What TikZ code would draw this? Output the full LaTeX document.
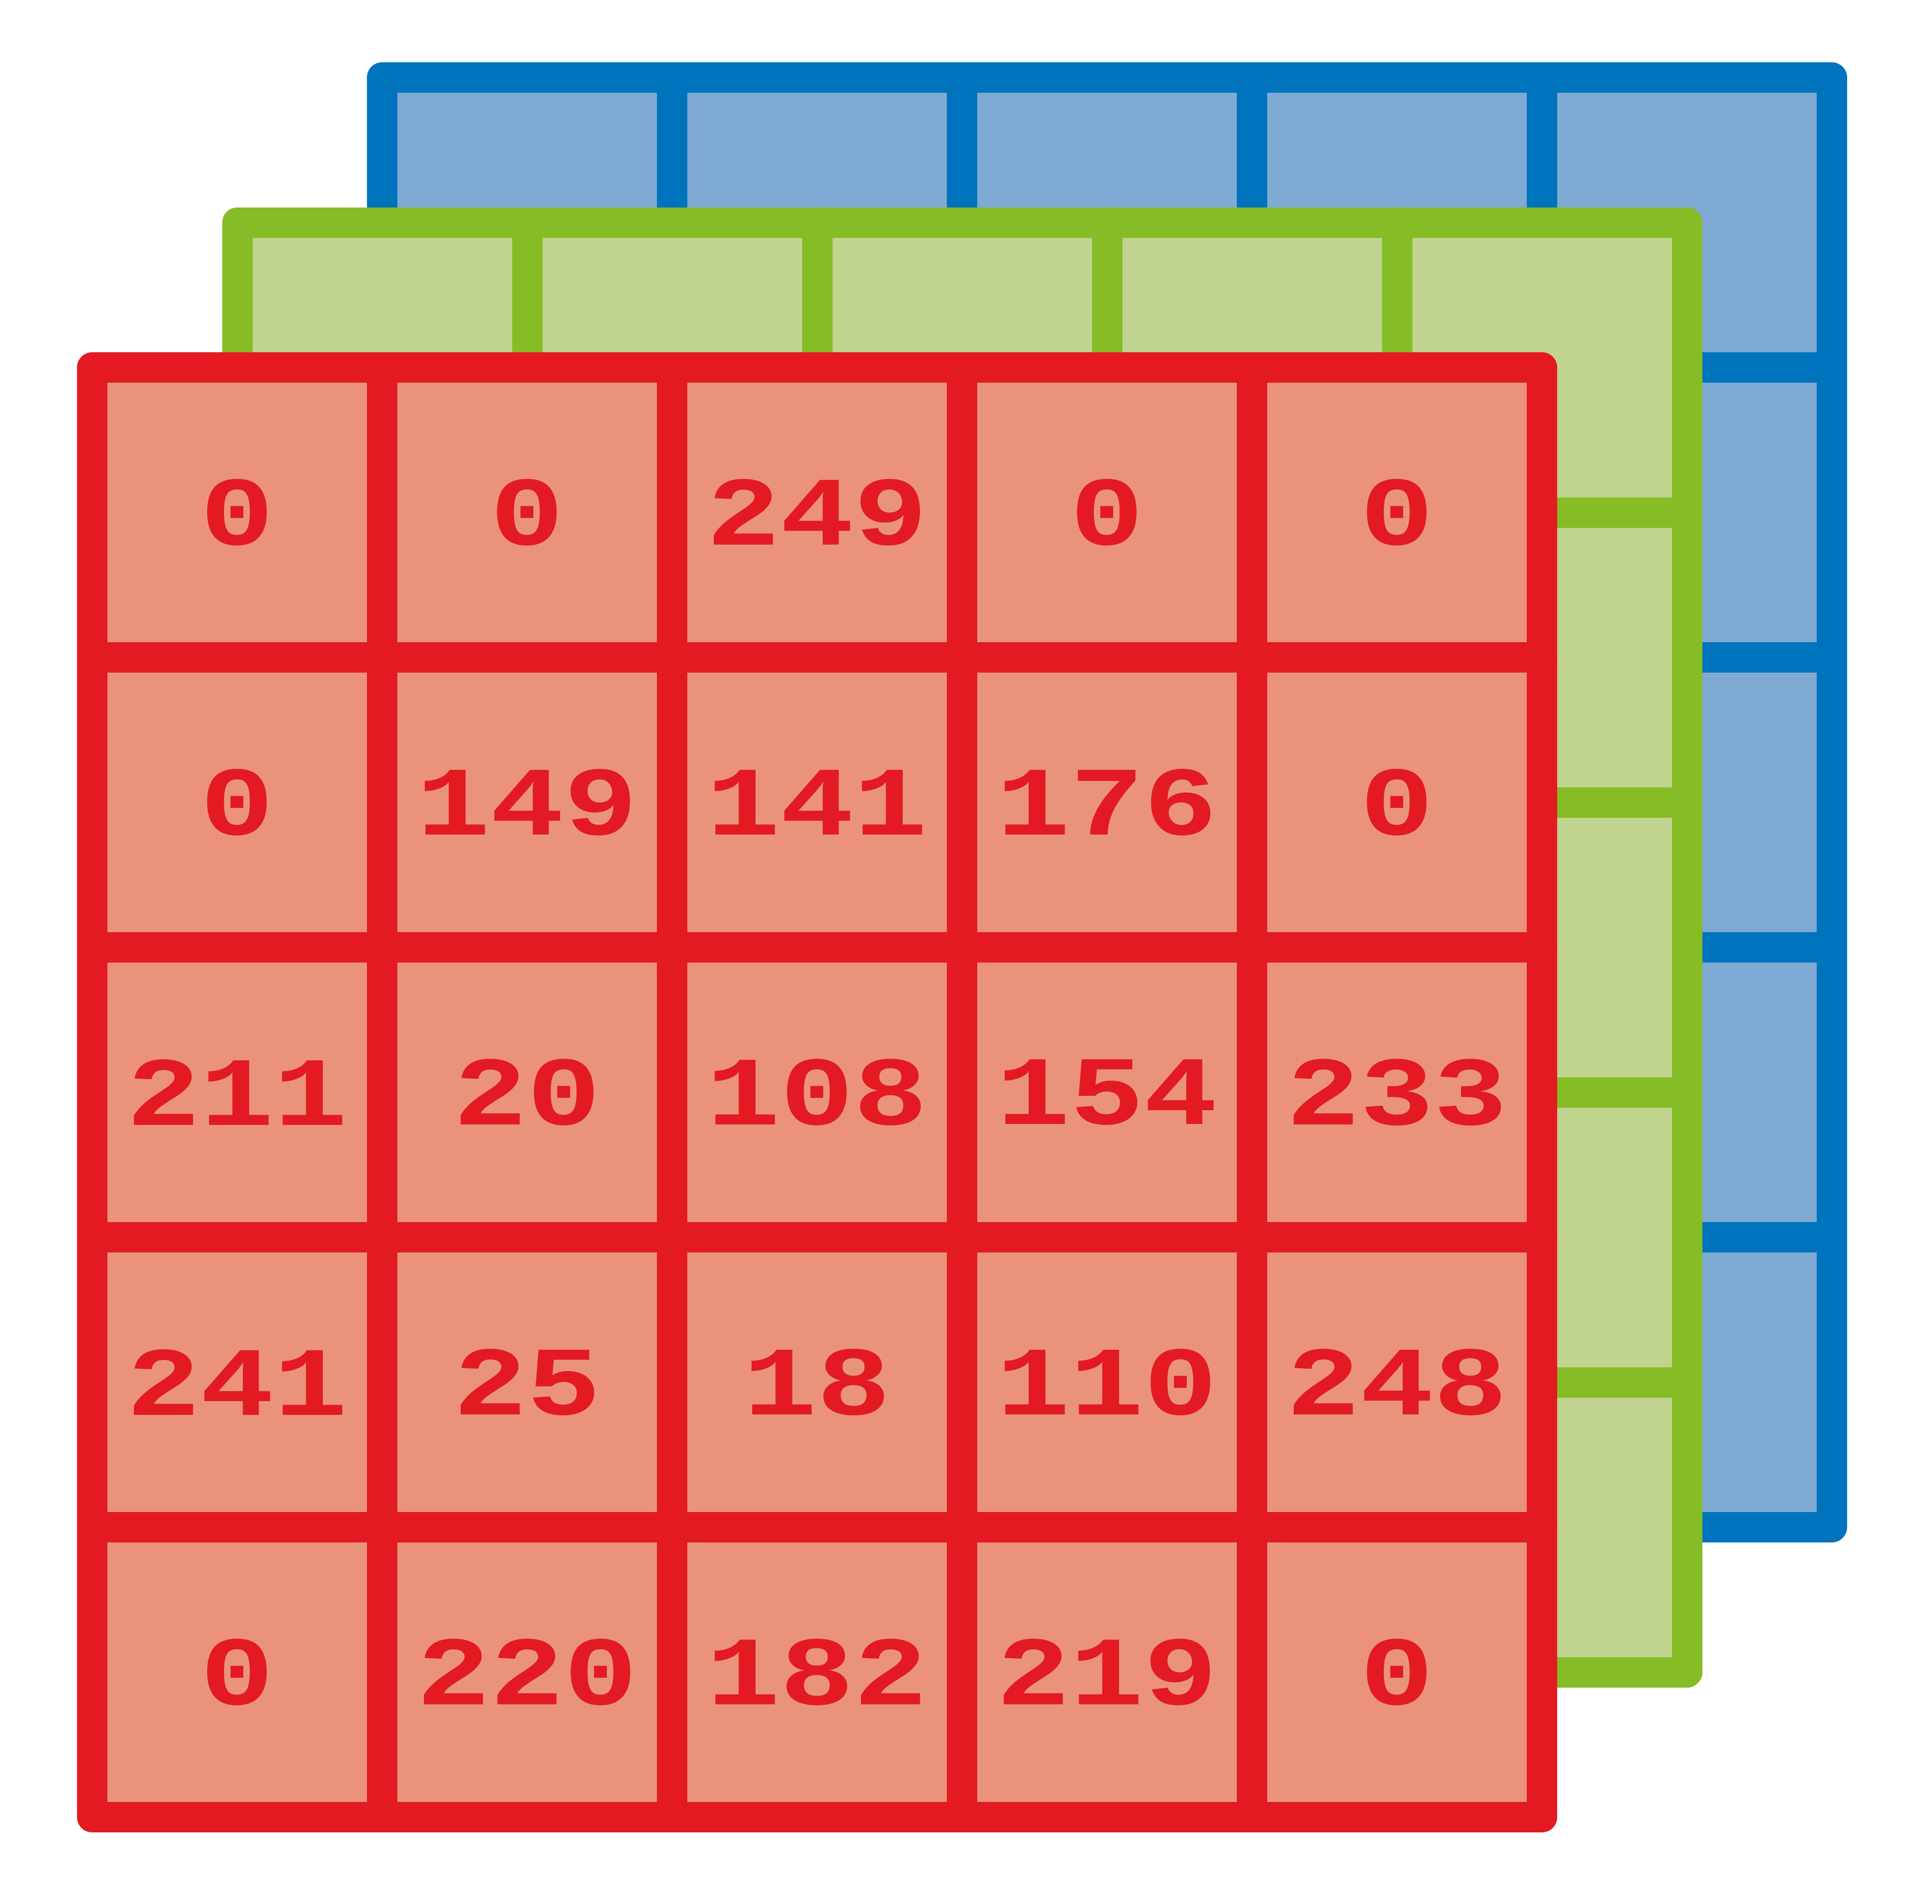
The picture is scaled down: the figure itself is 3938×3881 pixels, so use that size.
\documentclass[tikz,border=0pt]{standalone}
\usepackage{fontspec}
\newfontfamily\pixfont[FakeStretch=1.25]{Liberation Mono}
\definecolor{redline}{HTML}{E31A22}
\definecolor{redfill}{HTML}{EA937A}
\definecolor{greenline}{HTML}{86BC25}
\definecolor{greenfill}{HTML}{C0D48F}
\definecolor{blueline}{HTML}{0073BD}
\definecolor{bluefill}{HTML}{7FAAD4}
\tikzset{
  gridline/.style={line width=12.4pt, line cap=round, line join=round},
  val/.style={inner sep=0pt, text=redline, font=\pixfont\bfseries\fontsize{40pt}{40pt}\selectfont}
}
\newcommand\gridlayer[4]{%
  \fill[#4] (#1,#2) rectangle ++(2955,2955);
  \foreach \k in {1,...,4} {
    \draw[gridline, #3] (#1+\k*591,#2) -- ++(0,2955);
    \draw[gridline, #3] (#1,#2+\k*591) -- ++(2955,0);
  }
  \draw[gridline, #3] (#1,#2) rectangle ++(2955,2955);
}
\begin{document}
\begin{tikzpicture}[x=0.2pt, y=-0.2pt]
\useasboundingbox (0,0) rectangle (3938,3881);
\gridlayer{778.5}{158}{blueline}{bluefill}
\gridlayer{483.5}{453.5}{greenline}{greenfill}
\gridlayer{188}{749}{redline}{redfill}
\foreach \row/\vals in {1/{0,0,249,0,0},2/{0,149,141,176,0},3/{211,20,108,154,233},4/{241,25,18,110,248},5/{0,220,182,219,0}} {
  \foreach \v [count=\c] in \vals {
    \node[val] (v\row\c) at (188+\c*591-295.5, 749+\row*591-295.5) {\v};
  }
}
\end{tikzpicture}
\end{document}
